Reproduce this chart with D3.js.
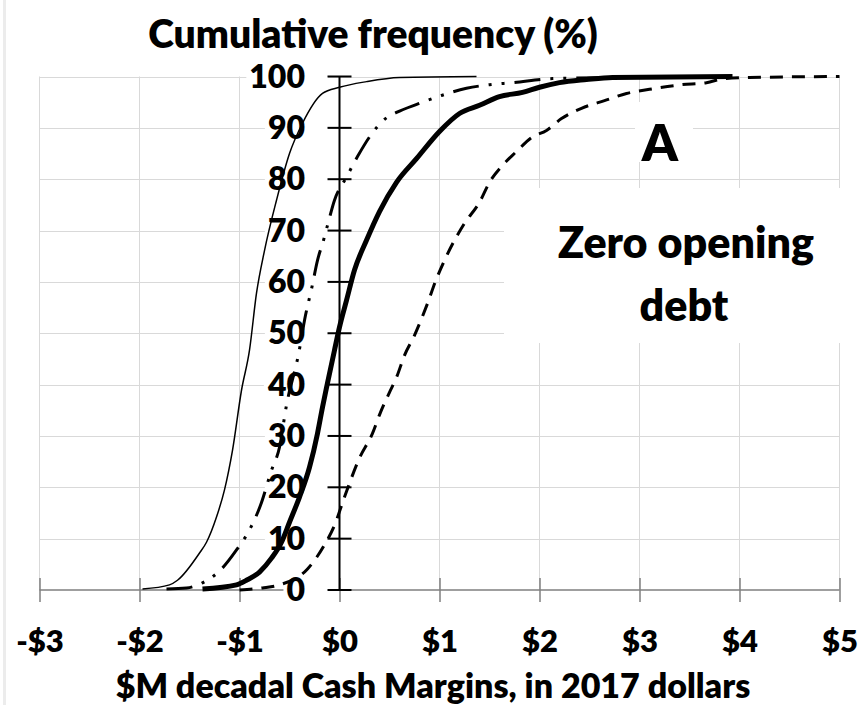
<!DOCTYPE html>
<html>
<head>
<meta charset="utf-8">
<script src="https://cdn.jsdelivr.net/npm/d3@7"></script>
<style>
  body { margin: 0; background: #fff; }
  svg { display: block; font-family: Lato, "Open Sans", sans-serif; font-weight: 800; }
</style>
</head>
<body>
<svg id="chart" width="863" height="705"></svg>
<script>
// cumulative frequency (%) vs $M decadal cash margin
const xTicks = [-3, -2, -1, 0, 1, 2, 3, 4, 5];
const xTickLabels = ["-$3", "-$2", "-$1", "$0", "$1", "$2", "$3", "$4", "$5"];
const yTicks = [0, 10, 20, 30, 40, 50, 60, 70, 80, 90, 100];

// thin solid
const thinLine = [
  [-1.97, 0.2], [-1.70, 1.0], [-1.62, 1.9], [-1.40, 7.2], [-1.33, 9.3], [-1.23, 14.2],
  [-1.15, 19.5], [-1.07, 27.2], [-0.98, 38.9], [-0.90, 46.7], [-0.83, 57.8], [-0.75, 66.1],
  [-0.63, 75.9], [-0.50, 85.0], [-0.37, 90.9], [-0.17, 96.7], [0, 97.9], [0.27, 99.0],
  [0.60, 99.8], [1.37, 100]
];
// dash-dot-dot
const dashDotLine = [
  [-1.73, 0.2], [-1.53, 0.4], [-1.37, 1.4], [-1.17, 4.3], [-1.03, 7.8], [-0.90, 11.7],
  [-0.79, 16.5], [-0.68, 23.3], [-0.60, 27.8], [-0.53, 36.0], [-0.41, 45.9], [-0.34, 53.5],
  [-0.28, 58.6], [-0.22, 64.2], [-0.16, 68.1], [-0.12, 71.0], [-0.05, 75.9], [0.07, 80.4],
  [0.18, 84.4], [0.31, 88.5], [0.46, 91.8], [0.57, 93.0], [0.79, 94.7], [1.02, 96.3],
  [1.27, 97.7], [1.50, 98.4], [1.73, 98.8], [2.13, 99.6], [2.80, 99.8], [3.60, 100]
];
// thick solid
const thickLine = [
  [-1.37, 0.2], [-1.03, 1.0], [-0.93, 1.9], [-0.80, 3.5], [-0.68, 6.2], [-0.58, 9.3],
  [-0.50, 13.2], [-0.40, 18.1], [-0.30, 23.9], [-0.22, 30.5], [-0.17, 35.6], [-0.12, 40.3],
  [-0.05, 46.7], [0, 51.2], [0.07, 56.4], [0.15, 62.3], [0.27, 68.1], [0.40, 73.7],
  [0.57, 79.4], [0.77, 84.0], [1.00, 89.3], [1.20, 92.8], [1.40, 94.4], [1.60, 96.1],
  [1.83, 96.9], [2.00, 97.9], [2.20, 98.8], [2.47, 99.4], [2.73, 99.8], [3.93, 100]
];
// dashed
const dashedLine = [
  [-1.00, 0], [-0.77, 0.4], [-0.60, 1.0], [-0.32, 4.1], [-0.15, 8.8], [-0.05, 12.6],
  [0.05, 18.1], [0.20, 25.7], [0.33, 30.5], [0.41, 34.6], [0.50, 38.5], [0.57, 41.4],
  [0.65, 45.7], [0.75, 49.6], [0.88, 55.8], [0.96, 60.1], [1.05, 64.2], [1.15, 68.1],
  [1.25, 71.4], [1.40, 75.5], [1.50, 79.4], [1.63, 82.7], [1.77, 85.4], [1.92, 88.1],
  [2.07, 89.5], [2.22, 91.8], [2.42, 93.8], [2.65, 95.3], [2.87, 96.7], [3.10, 97.5],
  [3.42, 98.4], [3.67, 98.8], [3.85, 99.6], [4.10, 99.8], [5.00, 100]
];

const series = [
  { name: "thin", data: thinLine, width: 1.5, dash: null },
  { name: "dashdot", data: dashDotLine, width: 3, dash: "26,10,3,10,3,10" },
  { name: "thick", data: thickLine, width: 5, dash: null },
  { name: "dashed", data: dashedLine, width: 3, dash: "13,9" },
];

const svg = d3.select("#chart");
const x = d3.scaleLinear().domain([-3, 5]).range([39.5, 839.5]);
const y = d3.scaleLinear().domain([0, 100]).range([590, 76.5]);

// faint page border on the left
svg.append("line")
  .attr("x1", 4.5).attr("x2", 4.5).attr("y1", 0).attr("y2", 705)
  .attr("stroke", "#ececec").attr("stroke-width", 3);

// gridlines
const grid = svg.append("g").attr("stroke", "#d9d9d9").attr("stroke-width", 1);
grid.selectAll("line.h").data(yTicks.filter(d => d > 0)).enter()
  .append("line").attr("class", "h")
  .attr("x1", x(-3)).attr("x2", x(5))
  .attr("y1", d => Math.round(y(d)) + 0.5).attr("y2", d => Math.round(y(d)) + 0.5);
grid.selectAll("line.v").data(xTicks).enter()
  .append("line").attr("class", "v")
  .attr("x1", d => x(d)).attr("x2", d => x(d))
  .attr("y1", y(100)).attr("y2", y(0));

// x axis, ticks crossing the line
const xAxis = d3.axisBottom(x)
  .tickValues(xTicks)
  .tickFormat((d, i) => xTickLabels[i])
  .tickSizeInner(24)
  .tickSizeOuter(0)
  .tickPadding(0);
const gx = svg.append("g")
  .attr("transform", `translate(0, ${y(0) - 12})`)
  .call(xAxis);
gx.select(".domain").remove();
gx.selectAll(".tick line").attr("stroke", "#7f7f7f").attr("stroke-width", 1.5);
gx.selectAll(".tick text")
  .attr("fill", "#000")
  .attr("y", 74)
  .attr("dy", null)
  .style("font-size", "31px")
  .style("font-family", "Lato, sans-serif")
  .style("font-weight", 800);
svg.append("line")
  .attr("x1", x(-3)).attr("x2", x(5)).attr("y1", y(0)).attr("y2", y(0))
  .attr("stroke", "#7f7f7f").attr("stroke-width", 1.5);

// y tick labels with white backing boxes
const yLab = svg.append("g");
yTicks.forEach(t => {
  const txt = yLab.append("text")
    .attr("x", 305).attr("y", y(t) + 11)
    .attr("text-anchor", "end")
    .style("font-size", "32px")
    .text(t);
  const b = txt.node().getBBox();
  yLab.insert("rect", "text")
    .attr("x", b.x - 3).attr("y", y(t) - 14)
    .attr("width", 328 - (b.x - 3)).attr("height", 28)
    .attr("fill", "#fff");
});

// annotation boxes
svg.append("rect").attr("x", 635).attr("y", 102).attr("width", 58).attr("height", 60).attr("fill", "#fff");
svg.append("rect").attr("x", 504).attr("y", 188).attr("width", 370).attr("height", 155).attr("fill", "#fff");
svg.append("text").attr("x", 660).attr("y", 161).attr("text-anchor", "middle")
  .style("font-size", "51px").text("A");
svg.append("text").attr("x", 686).attr("y", 258).attr("text-anchor", "middle")
  .style("font-size", "43px").text("Zero opening");
svg.append("text").attr("x", 684).attr("y", 321).attr("text-anchor", "middle")
  .style("font-size", "43px").text("debt");

// y axis with crossing ticks
const ya = svg.append("g").attr("stroke", "#000").attr("stroke-width", 2);
ya.append("line").attr("x1", x(0)).attr("x2", x(0)).attr("y1", y(100)).attr("y2", y(0));
ya.selectAll("line.tk").data(yTicks).enter().append("line").attr("class", "tk")
  .attr("x1", x(0) - 12).attr("x2", x(0) + 12)
  .attr("y1", d => y(d)).attr("y2", d => y(d));

// curves
const line = d3.line()
  .x(d => x(d[0]))
  .y(d => y(d[1]))
  .curve(d3.curveMonotoneX);

svg.append("g").selectAll("path").data(series).enter()
  .append("path")
  .attr("d", d => line(d.data))
  .attr("fill", "none")
  .attr("stroke", "#000")
  .attr("stroke-width", d => d.width)
  .attr("stroke-dasharray", d => d.dash)
  .attr("stroke-linejoin", "round");

// titles
svg.append("text").attr("x", 373).attr("y", 48).attr("text-anchor", "middle")
  .style("font-size", "39px").text("Cumulative frequency (%)");
svg.append("text").attr("x", 433).attr("y", 698).attr("text-anchor", "middle")
  .style("font-size", "34px").text("$M decadal Cash Margins, in 2017 dollars");
</script>
</body>
</html>
